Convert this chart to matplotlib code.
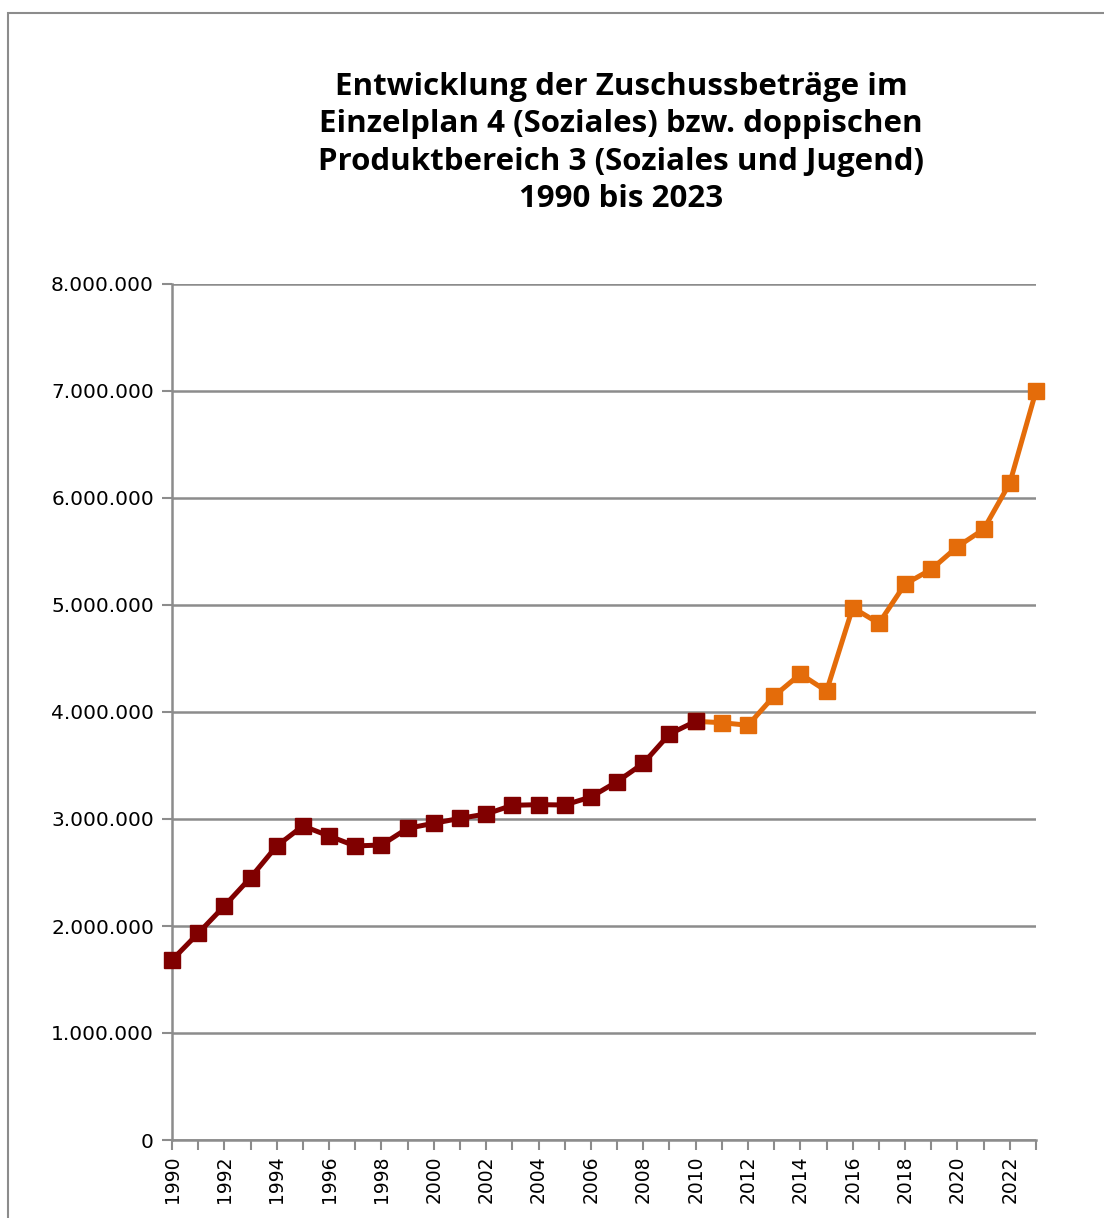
import matplotlib.pyplot as plt
from matplotlib.patches import Rectangle
from matplotlib.ticker import FuncFormatter

plt.rcParams['font.family'] = ['DejaVu Sans']

# Kameralistik (Einzelplan 4), 1990-2010
years_old = list(range(1990, 2011))
values_old = [1682000, 1932000, 2187000, 2452000, 2748000, 2935000, 2841000,
              2748000, 2757000, 2913000, 2960000, 3006000, 3047000, 3128000,
              3134000, 3131000, 3206000, 3349000, 3520000, 3794000, 3913000]

# Doppik (Produktbereich 3), 2010-2023
years_new = list(range(2010, 2024))
values_new = [3913000, 3900000, 3876000, 4150000, 4355000, 4196000, 4975000,
              4829000, 5196000, 5333000, 5545000, 5707000, 6140000, 7000000]

title = ("Entwicklung der Zuschussbeträge im\n"
         "Einzelplan 4 (Soziales) bzw. doppischen\n"
         "Produktbereich 3 (Soziales und Jugend)\n"
         "1990 bis 2023")

dark_red = "#800000"
orange = "#E46C0A"
grey = "#8C8C8C"

fig = plt.figure(figsize=(11.04, 12.18), dpi=100)
fig.patches.append(Rectangle((8 / 1104, -0.1), 1.2, 1 - 13 / 1218 + 0.1,
                             transform=fig.transFigure, fill=False,
                             edgecolor="#8C8C8C", linewidth=1.5))

ax = fig.add_axes([172 / 1104, 1 - 1140 / 1218, (1036 - 172) / 1104, (1140 - 284) / 1218])

ax.plot(years_new, values_new, color=orange, linewidth=3.6, marker="s",
        markersize=11, clip_on=False, zorder=3)
ax.plot(years_old, values_old, color=dark_red, linewidth=3.6, marker="s",
        markersize=11, clip_on=False, zorder=4)

ax.set_xlim(1990, 2023)
ax.set_ylim(0, 8000000)
ax.set_yticks(range(0, 8000001, 1000000))
ax.yaxis.set_major_formatter(FuncFormatter(lambda v, p: f"{int(v):,}".replace(",", ".")))
ax.set_xticks(range(1990, 2024))
ax.set_xticklabels([str(y) if y % 2 == 0 else "" for y in range(1990, 2024)],
                   rotation=90)

ax.grid(axis="y", color=grey, linewidth=1.8)
ax.set_axisbelow(True)
for s in ["top", "right"]:
    ax.spines[s].set_visible(False)
for s in ["left", "bottom"]:
    ax.spines[s].set_color(grey)
    ax.spines[s].set_linewidth(1.8)
ax.tick_params(axis="both", color=grey, width=1.5, length=7)
ax.tick_params(axis="y", labelsize=14.5, pad=6)
ax.tick_params(axis="x", labelsize=13.5, pad=4)

fig.text(621 / 1104, 1 - 143 / 1218, title, ha="center", va="center",
         fontsize=22.5, fontweight="bold", family="Open Sans", linespacing=1.32)

fig.savefig("out.png", dpi=100)
